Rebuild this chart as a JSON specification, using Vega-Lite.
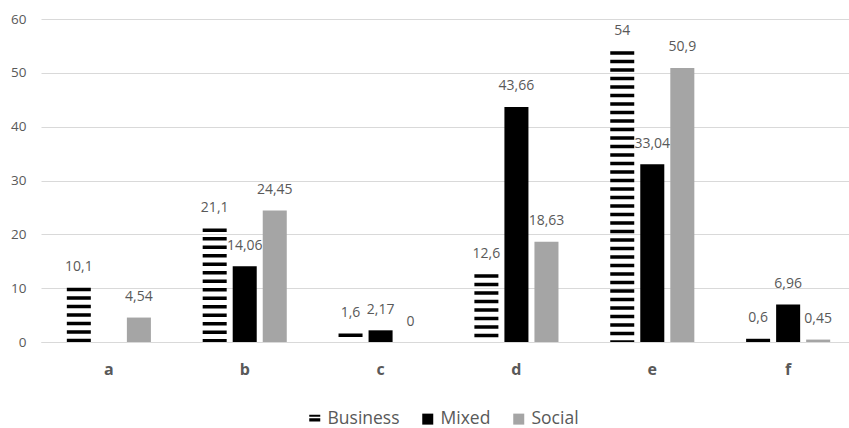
{
  "$schema": "https://vega.github.io/schema/vega-lite/v6.json",
  "width": 808,
  "height": 323,
  "autosize": "none",
  "padding": {"left": 41, "top": 19, "right": 0, "bottom": 86},
  "background": "white",
  "data": {
    "values": [
      {"cat": "a", "series": "Business", "value": 10.1},
      {"cat": "a", "series": "Social", "value": 4.54},
      {"cat": "b", "series": "Business", "value": 21.1},
      {"cat": "b", "series": "Mixed", "value": 14.06},
      {"cat": "b", "series": "Social", "value": 24.45},
      {"cat": "c", "series": "Business", "value": 1.6},
      {"cat": "c", "series": "Mixed", "value": 2.17},
      {"cat": "c", "series": "Social", "value": 0},
      {"cat": "d", "series": "Business", "value": 12.6},
      {"cat": "d", "series": "Mixed", "value": 43.66},
      {"cat": "d", "series": "Social", "value": 18.63},
      {"cat": "e", "series": "Business", "value": 54},
      {"cat": "e", "series": "Mixed", "value": 33.04},
      {"cat": "e", "series": "Social", "value": 50.9},
      {"cat": "f", "series": "Business", "value": 0.6},
      {"cat": "f", "series": "Mixed", "value": 6.96},
      {"cat": "f", "series": "Social", "value": 0.45}
    ]
  },
  "encoding": {
    "x": {
      "field": "cat",
      "type": "nominal",
      "scale": {"range": [0, 815], "paddingInner": 0.381, "paddingOuter": 0.19},
      "axis": {
        "title": null,
        "labelAngle": 0,
        "ticks": false,
        "domain": true,
        "domainColor": "#d9d9d9",
        "labelFont": "Open Sans",
        "labelFontWeight": "bold",
        "labelFontSize": 16,
        "labelColor": "#595959",
        "labelPadding": 19
      }
    },
    "xOffset": {
      "field": "series",
      "type": "nominal",
      "scale": {"domain": ["Business", "Mixed", "Social"], "paddingInner": 0.2, "paddingOuter": 0}
    },
    "y": {
      "field": "value",
      "type": "quantitative",
      "scale": {"domain": [0, 60], "nice": false},
      "axis": {
        "title": null,
        "values": [0, 10, 20, 30, 40, 50, 60],
        "ticks": false,
        "domain": false,
        "grid": true,
        "gridColor": "#d9d9d9",
        "gridWidth": 1,
        "labelFont": "Open Sans",
        "labelFontSize": 13.5,
        "labelColor": "#595959",
        "labelPadding": 15
      }
    }
  },
  "layer": [
    {
      "transform": [{"filter": "datum.series !== 'Business'"}],
      "mark": {"type": "bar"},
      "encoding": {
        "color": {
          "field": "series",
          "type": "nominal",
          "scale": {"domain": ["Business", "Mixed", "Social"], "range": ["#000000", "#000000", "#a5a5a5"]},
          "legend": {
            "orient": "none",
            "legendX": 265,
            "legendY": 391,
            "direction": "horizontal",
            "title": null,
            "labelFont": "Open Sans",
            "labelFontSize": 17.5,
            "labelColor": "#595959",
            "symbolType": "square",
            "symbolSize": 121,
            "symbolStrokeWidth": 0,
            "symbolOpacity": 1,
            "columnPadding": 19,
            "labelOffset": 4,
            "encode": {
              "symbols": {
                "update": {
                  "shape": {"signal": "datum.value === 'Business' ? 'M-1,-0.8H1V-0.45H-1Z M-1,-0.15H1V0.45H-1Z' : 'square'"}
                }
              }
            }
          }
        }
      }
    },
    {
      "transform": [{"filter": "datum.series === 'Business'"}],
      "mark": {"type": "rule", "strokeWidth": 24, "strokeDash": [3.5, 5], "color": "#000000", "strokeCap": "butt"},
      "encoding": {
        "y2": {"datum": 0}
      }
    },
    {
      "transform": [{"calculate": "replace(format(datum.value, '~f'), '.', ',')", "as": "label"}],
      "mark": {"type": "text", "font": "Open Sans", "fontSize": 14, "color": "#595959", "baseline": "middle", "dy": -20.5},
      "encoding": {
        "text": {"field": "label", "type": "nominal"}
      }
    }
  ],
  "config": {
    "view": {"stroke": null}
  }
}
